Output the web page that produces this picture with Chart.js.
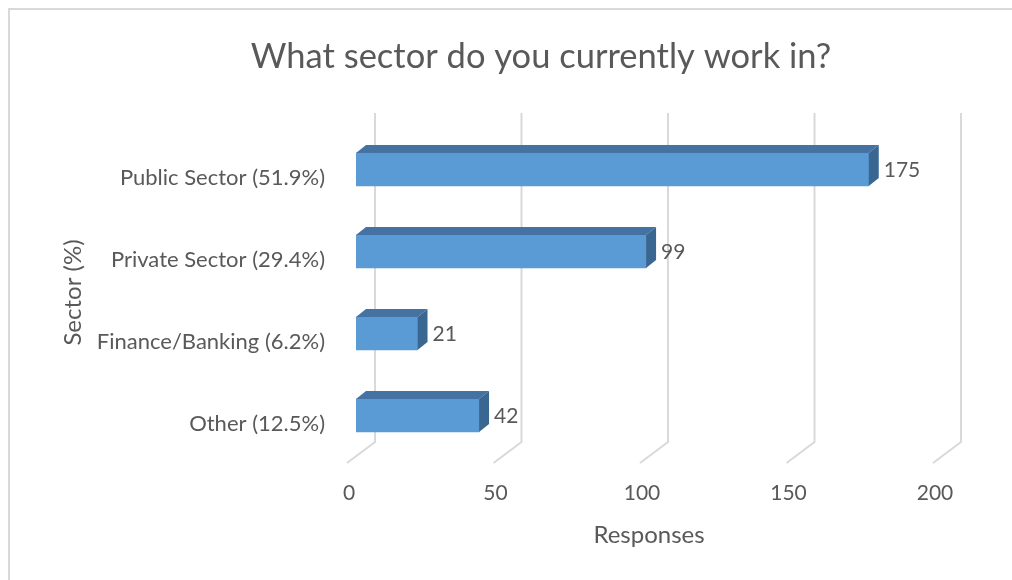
<!DOCTYPE html>
<html>
<head>
<meta charset="utf-8">
<script src="https://cdn.jsdelivr.net/npm/chart.js@4"></script>
<style>
  html, body { margin: 0; padding: 0; background: #fff; }
</style>
</head>
<body>
<canvas id="sectorChart" width="1012" height="580"></canvas>
<script>
const categories = ['Public Sector (51.9%)', 'Private Sector (29.4%)', 'Finance/Banking (6.2%)', 'Other (12.5%)'];
const responses = [175, 99, 21, 42];
const xTicks = [0, 50, 100, 150, 200];

const textColor = '#595959';
const gridColor = '#d9d9d9';
const fontFamily = 'Lato, "Open Sans", sans-serif';

// 3D look: back wall gridlines + top/side faces of the bars
const bar3d = {
    id: 'bar3d',
    afterLayout(chart) {
        // title is centred over the plot, not the whole canvas
        chart.titleBlock.left = 140;
        chart.titleBlock.right = chart.chartArea.right;
    },
    beforeDraw(chart) {
        const c = chart.ctx;
        c.save();
        c.strokeStyle = gridColor;
        c.lineWidth = 2;
        c.beginPath();
        c.moveTo(9, 580);
        c.lineTo(9, 9);
        c.lineTo(1012, 9);
        c.stroke();
        c.restore();
    },
    beforeDatasetsDraw(chart) {
        const x = chart.scales.x;
        const c = chart.ctx;
        c.save();
        c.strokeStyle = gridColor;
        c.lineWidth = 2;
        xTicks.forEach(v => {
            const px = x.getPixelForValue(v);
            c.beginPath();
            c.moveTo(px + 19, 113);
            c.lineTo(px + 19, 442);
            c.lineTo(px - 9, 463);
            c.stroke();
        });
        c.restore();
    },
    afterDatasetsDraw(chart) {
        const c = chart.ctx;
        const dx = 10, dy = -8;
        chart.getDatasetMeta(0).data.forEach((bar, i) => {
            const p = bar.getProps(['x', 'y', 'base', 'height'], true);
            const top = p.y - p.height / 2;
            const bot = p.y + p.height / 2;
            // top face
            c.fillStyle = '#4472a2';
            c.beginPath();
            c.moveTo(p.base, top);
            c.lineTo(p.x, top);
            c.lineTo(p.x + dx, top + dy);
            c.lineTo(p.base + dx, top + dy);
            c.closePath();
            c.fill();
            // side face
            c.fillStyle = '#3a6692';
            c.beginPath();
            c.moveTo(p.x, top);
            c.lineTo(p.x + dx, top + dy);
            c.lineTo(p.x + dx, bot + dy);
            c.lineTo(p.x, bot);
            c.closePath();
            c.fill();
            // value label
            c.fillStyle = textColor;
            c.font = '21px ' + fontFamily;
            c.textAlign = 'left';
            c.textBaseline = 'middle';
            c.fillText(responses[i], p.x + dx + 5, p.y + 1);
        });
    }
};

const ctx = document.getElementById('sectorChart').getContext('2d');
const chart = new Chart(ctx, {
    type: 'bar',
    data: {
        labels: categories,
        datasets: [{
            data: responses,
            backgroundColor: '#5b9bd5',
            borderWidth: 0,
            barThickness: 33
        }]
    },
    options: {
        indexAxis: 'y',
        responsive: false,
        animation: false,
        layout: { padding: { left: 0, right: 70, top: 0, bottom: 0 } },
        scales: {
            x: {
                min: 0,
                max: 200,
                afterBuildTicks: s => { s.ticks = xTicks.map(v => ({ value: v })); },
                afterFit: s => { s.height = 123.5; },
                grid: { display: false, drawTicks: false },
                border: { display: false },
                ticks: { color: textColor, font: { family: fontFamily, size: 21 }, padding: 24, labelOffset: -7 },
                title: {
                    display: true,
                    text: 'Responses',
                    color: textColor,
                    font: { family: fontFamily, size: 24 },
                    padding: { top: 0, bottom: 30.6 }
                }
            },
            y: {
                afterFit: s => { s.width = 356; },
                grid: { display: false, drawTicks: false },
                border: { display: false },
                ticks: { color: textColor, font: { family: fontFamily, size: 22 }, padding: 31, labelOffset: 8 },
                title: {
                    display: true,
                    text: 'Sector (%)',
                    color: textColor,
                    font: { family: fontFamily, size: 24 },
                    padding: { top: 58.6, bottom: 0 }
                }
            }
        },
        plugins: {
            legend: { display: false },
            tooltip: { enabled: false },
            title: {
                display: true,
                text: 'What sector do you currently work in?',
                color: textColor,
                font: { family: fontFamily, size: 34.5, weight: 'normal' },
                padding: { top: 36.3, bottom: 50.8 }
            }
        }
    },
    plugins: [bar3d]
});
</script>
</body>
</html>
